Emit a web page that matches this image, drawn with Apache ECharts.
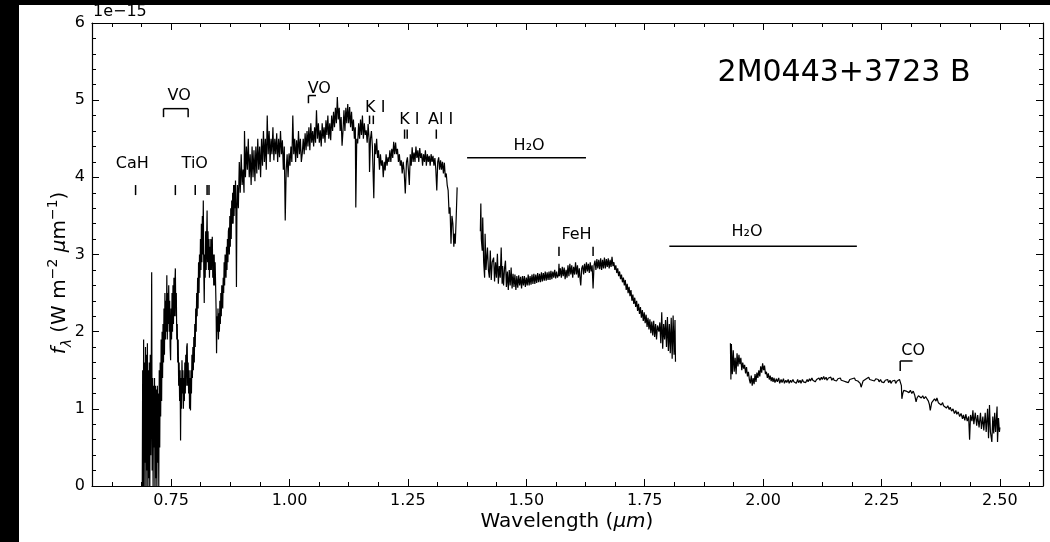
<!DOCTYPE html>
<html><head><meta charset="utf-8">
<script src="https://cdn.jsdelivr.net/npm/echarts@6/dist/echarts.min.js"></script>
<style>
html,body{margin:0;padding:0;background:#000;width:1050px;height:542px;overflow:hidden}
#chart{position:absolute;left:19px;top:5px;width:1031px;height:537px;background:#fff}
</style>
</head><body><div id="chart"></div>
<script>
// Flux values in units of 1e-15 W m^-2 um^-1, wavelength in um
const specSeg1 = [
[0.689,-0.3],[0.690,1.5],[0.691,-0.5],[0.692,1.9],[0.693,-0.4],[0.694,1.6],[0.695,0.3],[0.696,1.8],[0.697,-0.5],[0.698,1.7],
[0.699,0.2],[0.700,1.85],[0.701,-0.3],[0.702,1.5],[0.703,0.1],[0.704,1.6],[0.705,-0.2],[0.706,1.7],[0.707,0.4],[0.708,1.2],
[0.709,2.77],[0.710,0.2],[0.711,1.4],[0.712,0.0],[0.713,1.3],[0.714,0.5],[0.715,1.4],[0.716,-0.2],[0.717,1.3],[0.718,0.1],
[0.719,1.25],[0.720,-0.1],[0.721,1.3],[0.722,0.3],[0.723,1.2],[0.724,0.0],[0.725,1.5],[0.726,0.5],[0.727,1.6],[0.728,0.9],
[0.729,1.9],[0.730,1.1],[0.731,2.0],[0.732,1.4],[0.733,2.1],[0.734,1.6],[0.735,2.3],[0.736,1.7],[0.737,2.5],[0.738,1.9],
[0.739,2.4],[0.740,2.0],[0.741,2.73],[0.742,1.9],[0.743,2.5],[0.744,2.1],[0.745,2.6],[0.746,2.0],[0.747,2.4],[0.748,1.8],
[0.749,1.63],[0.750,2.3],[0.751,1.9],[0.752,2.5],[0.753,2.0],[0.754,2.6],[0.755,2.1],[0.756,2.7],[0.757,2.2],[0.758,2.6],
[0.759,2.82],[0.760,2.2],[0.761,2.5],[0.762,1.9],[0.763,2.1],[0.764,1.6],[0.765,1.9],[0.766,1.3],[0.767,1.6],[0.768,1.1],
[0.769,1.5],[0.770,0.59],[0.771,1.4],[0.772,1.0],[0.773,1.63],[0.774,1.2],[0.775,1.5],[0.776,1.0],[0.777,1.4],[0.778,1.1],
[0.779,1.6],[0.780,1.2],[0.781,1.7],[0.782,1.3],[0.783,1.8],[0.784,1.85],[0.785,1.3],[0.786,1.6],[0.787,1.2],[0.788,1.5],
[0.789,1.0],[0.790,1.4],[0.791,0.98],[0.792,1.5],[0.793,1.2],[0.794,1.7],[0.795,1.4],[0.796,1.8],[0.797,1.5],[0.798,1.93],
[0.799,1.6],[0.800,2.1],[0.801,1.8],[0.802,2.3],[0.803,2.0],[0.804,2.5],[0.805,2.2],[0.806,2.7],[0.807,2.3],[0.808,2.9],
[0.809,2.5],[0.810,3.0],[0.811,2.7],[0.812,3.2],[0.813,2.8],[0.814,3.4],[0.815,2.9],[0.816,3.5],[0.817,3.0],[0.818,3.7],
[0.819,2.8],[0.820,2.37],[0.821,3.0],[0.822,2.7],[0.823,3.3],[0.824,2.8],[0.825,3.2],[0.826,3.57],[0.827,2.9],[0.828,3.3],
[0.829,2.8],[0.830,3.2],[0.831,2.7],[0.832,3.1],[0.833,2.8],[0.834,3.2],[0.835,2.8],[0.836,3.1],[0.837,3.23],[0.838,2.7],
[0.839,3.0],[0.840,2.6],[0.841,3.0],[0.842,2.6],[0.843,2.9],[0.844,2.89],[0.845,2.3],[0.846,1.72],[0.847,2.2],[0.848,2.0],
[0.849,2.3],[0.850,1.9],[0.851,2.24],[0.852,2.0],[0.853,2.4],[0.854,2.1],[0.855,2.5],[0.856,2.2],[0.857,2.6],[0.858,2.54],
[0.859,2.3],[0.860,2.7],[0.861,2.5],[0.862,2.9],[0.863,2.6],[0.864,3.0],[0.865,2.96],[0.866,2.7],[0.867,3.1],[0.868,2.8],
[0.869,3.2],[0.870,2.9],[0.871,3.3],[0.872,3.35],[0.873,3.0],[0.874,3.5],[0.875,3.1],[0.876,3.6],[0.877,3.2],[0.878,3.7],
[0.879,3.4],[0.880,3.8],[0.881,3.4],[0.882,3.9],[0.883,3.5],[0.884,3.9],[0.885,3.6],[0.886,3.96],[0.887,3.5],[0.888,2.58],
[0.889,3.6],[0.890,3.9],[0.892,3.6],[0.894,4.2],[0.896,3.8],[0.898,4.3],[0.900,3.9],[0.902,4.1],[0.904,3.8],
[0.905,4.6],[0.907,4.0],[0.909,4.4],[0.911,4.1],[0.913,4.5],[0.915,4.0],[0.917,4.3],[0.919,3.9],[0.921,4.4],[0.923,4.0],
[0.925,4.35],[0.927,3.95],[0.929,4.4],[0.931,4.05],[0.933,4.5],[0.935,4.1],[0.937,4.4],[0.939,4.0],[0.941,4.5],[0.943,4.15],
[0.945,4.6],[0.947,4.2],[0.949,4.5],[0.951,4.1],[0.953,4.8],[0.955,4.3],[0.957,4.6],[0.959,4.2],[0.961,4.5],[0.963,4.3],
[0.965,4.65],[0.967,4.22],[0.969,4.5],[0.971,4.3],[0.973,4.57],[0.975,4.2],[0.977,4.5],[0.979,4.26],[0.981,4.6],[0.983,4.3],
[0.985,4.48],[0.987,4.1],[0.989,4.4],[0.991,3.44],[0.993,4.09],[0.995,4.3],[0.997,4.0],[0.999,4.31],[1.001,4.15],[1.003,4.4],
[1.005,4.2],[1.007,4.8],[1.009,4.3],[1.011,4.5],[1.013,4.2],[1.015,4.48],[1.017,4.25],[1.019,4.6],[1.021,4.3],[1.023,4.5],
[1.025,4.2],[1.027,4.31],[1.029,4.5],[1.031,4.3],[1.033,4.57],[1.035,4.35],[1.037,4.6],[1.039,4.4],[1.041,4.65],[1.043,4.35],
[1.045,4.7],[1.047,4.45],[1.049,4.6],[1.051,4.4],[1.053,4.65],[1.055,4.45],[1.057,4.87],[1.059,4.5],[1.061,4.7],[1.063,4.45],
[1.065,4.61],[1.067,4.4],[1.069,4.7],[1.071,4.5],[1.073,4.65],[1.075,4.45],[1.077,4.74],[1.079,4.55],[1.081,4.8],[1.083,4.5],
[1.085,4.7],[1.087,4.48],[1.089,4.8],[1.091,4.6],[1.093,4.85],[1.095,4.65],[1.097,4.9],[1.099,4.7],[1.101,5.04],[1.103,4.75],
[1.105,4.9],[1.107,4.6],[1.109,4.78],[1.111,4.41],[1.113,4.6],[1.115,4.87],[1.117,4.6],[1.119,4.9],[1.121,4.7],[1.123,4.95],
[1.125,4.7],[1.127,4.91],[1.129,4.65],[1.131,4.85],[1.133,4.6],[1.135,4.75],[1.137,4.5],[1.139,4.65],[1.140,3.61],[1.142,4.5],
[1.144,4.44],[1.146,4.7],[1.148,4.5],[1.150,4.75],[1.152,4.55],[1.154,4.8],[1.156,4.5],[1.158,4.7],[1.160,4.55],[1.162,4.61],
[1.164,4.45],[1.166,4.69],[1.168,4.5],[1.169,4.07],[1.171,4.5],[1.173,4.6],[1.175,4.4],[1.178,3.73],[1.180,4.44],[1.182,4.3],
[1.184,4.5],[1.186,4.25],[1.188,4.35],[1.190,4.1],[1.192,4.3],[1.194,4.15],[1.196,4.22],[1.198,4.0],[1.200,4.2],[1.202,4.09],
[1.204,4.3],[1.206,4.15],[1.208,4.26],[1.210,4.2],[1.212,4.35],[1.214,4.2],[1.216,4.37],[1.218,4.25],[1.220,4.46],[1.222,4.3],
[1.224,4.45],[1.226,4.3],[1.228,4.37],[1.230,4.2],[1.232,4.3],[1.234,4.15],[1.236,4.22],[1.238,4.05],[1.240,4.2],[1.242,4.09],
[1.2445,3.79],[1.247,4.2],[1.249,4.26],[1.251,4.1],[1.253,3.9],[1.255,4.3],[1.257,4.15],[1.259,4.39],[1.261,4.2],[1.263,4.32],
[1.265,4.2],[1.267,4.4],[1.269,4.25],[1.271,4.35],[1.273,4.2],[1.275,4.38],[1.277,4.25],[1.279,4.31],[1.281,4.15],[1.283,4.3],
[1.285,4.2],[1.287,4.35],[1.289,4.15],[1.291,4.3],[1.293,4.2],[1.295,4.28],[1.297,4.15],[1.299,4.3],[1.301,4.2],[1.303,4.28],
[1.305,4.15],[1.307,4.25],[1.309,4.1],[1.311,3.83],[1.313,4.2],[1.315,4.26],[1.317,4.1],[1.319,4.22],[1.321,4.1],[1.323,4.2],
[1.325,4.05],[1.327,4.19],[1.329,4.0],[1.331,4.05],[1.333,3.9],[1.335,3.83],[1.337,3.53],[1.339,3.61],[1.341,3.14],[1.343,3.5],
[1.345,3.4],[1.347,3.1],[1.348,3.27],[1.350,3.14],[1.352,3.48],[1.354,3.87]
];
const specSeg2 = [
[1.403,3.3],[1.404,3.66],[1.405,3.2],[1.407,3.05],[1.408,3.48],[1.410,2.9],[1.412,2.7],[1.413,3.27],[1.415,2.8],[1.416,2.92],
[1.418,3.09],[1.420,2.8],[1.422,2.7],[1.424,3.05],[1.426,2.67],[1.428,2.9],[1.431,2.96],[1.433,2.65],[1.435,2.9],[1.437,2.7],
[1.439,3.01],[1.441,2.62],[1.443,2.85],[1.445,2.7],[1.447,3.09],[1.449,2.62],[1.450,2.85],[1.452,2.6],[1.454,2.82],[1.456,2.92],
[1.458,2.58],[1.460,2.78],[1.462,2.54],[1.464,2.8],[1.466,2.6],[1.468,2.83],[1.470,2.56],[1.472,2.75],[1.474,2.58],[1.476,2.74],
[1.478,2.54],[1.480,2.72],[1.482,2.57],[1.484,2.73],[1.486,2.6],[1.488,2.71],[1.490,2.56],[1.492,2.72],[1.494,2.6],[1.496,2.72],
[1.498,2.58],[1.500,2.7],[1.502,2.6],[1.504,2.74],[1.506,2.6],[1.508,2.72],[1.510,2.61],[1.512,2.74],[1.514,2.62],[1.516,2.75],
[1.518,2.62],[1.520,2.74],[1.522,2.63],[1.524,2.76],[1.526,2.64],[1.528,2.75],[1.530,2.64],[1.532,2.77],[1.534,2.65],[1.536,2.76],
[1.538,2.66],[1.540,2.78],[1.542,2.66],[1.544,2.77],[1.546,2.67],[1.548,2.78],[1.550,2.67],[1.552,2.79],[1.554,2.68],[1.556,2.78],
[1.558,2.7],[1.560,2.8],[1.562,2.69],[1.564,2.78],[1.566,2.7],[1.568,2.74],[1.569,2.88],[1.570,2.72],[1.572,2.82],[1.574,2.7],
[1.576,2.84],[1.578,2.72],[1.580,2.83],[1.582,2.68],[1.584,2.8],[1.586,2.7],[1.588,2.86],[1.590,2.72],[1.592,2.88],[1.594,2.74],
[1.596,2.86],[1.598,2.7],[1.600,2.84],[1.602,2.74],[1.604,2.9],[1.606,2.74],[1.608,2.86],[1.610,2.7],[1.612,2.82],[1.614,2.65],
[1.615,2.6],[1.617,2.82],[1.619,2.86],[1.621,2.74],[1.623,2.88],[1.625,2.76],[1.627,2.9],[1.629,2.78],[1.631,2.88],[1.633,2.76],
[1.635,2.9],[1.637,2.78],[1.639,2.86],[1.641,2.56],[1.643,2.86],[1.645,2.92],[1.647,2.8],[1.649,2.94],[1.651,2.82],[1.653,2.93],
[1.655,2.81],[1.657,2.95],[1.659,2.8],[1.661,2.93],[1.663,2.82],[1.665,2.96],[1.667,2.82],[1.669,2.94],[1.671,2.84],[1.673,2.95],
[1.675,2.82],[1.677,2.93],[1.679,2.84],[1.681,2.97],[1.683,2.85],[1.685,2.9],[1.687,2.8],[1.689,2.86],[1.691,2.76],[1.693,2.82],
[1.695,2.72],[1.697,2.78],[1.699,2.68],[1.701,2.74],[1.703,2.64],[1.705,2.7],[1.707,2.6],[1.709,2.67],[1.711,2.54],[1.713,2.62],
[1.715,2.5],[1.717,2.58],[1.719,2.46],[1.721,2.54],[1.723,2.4],[1.725,2.48],[1.727,2.36],[1.729,2.44],[1.731,2.32],[1.733,2.4],
[1.735,2.27],[1.737,2.36],[1.739,2.23],[1.741,2.32],[1.743,2.18],[1.745,2.28],[1.747,2.14],[1.749,2.25],[1.751,2.11],[1.753,2.22],
[1.755,2.06],[1.757,2.18],[1.759,2.03],[1.761,2.16],[1.763,1.98],[1.765,2.13],[1.767,1.95],[1.769,2.14],[1.771,1.93],[1.773,2.1],
[1.775,1.9],[1.777,2.08],[1.780,2.0],[1.782,2.12],[1.784,1.85],[1.786,2.25],[1.788,1.78],[1.790,2.1],[1.792,1.9],[1.794,2.15],
[1.796,1.8],[1.798,2.19],[1.800,1.75],[1.802,2.1],[1.804,1.72],[1.806,2.18],[1.808,1.65],[1.810,2.21],[1.812,1.7],[1.814,2.15],
[1.815,1.61]
];
const specSeg3 = [
[1.931,1.85],[1.932,1.38],[1.933,1.84],[1.935,1.45],[1.937,1.76],[1.939,1.48],[1.941,1.66],[1.943,1.45],[1.945,1.72],[1.947,1.55],
[1.949,1.7],[1.951,1.58],[1.953,1.66],[1.955,1.5],[1.957,1.6],[1.959,1.52],[1.961,1.57],[1.963,1.46],[1.965,1.54],[1.967,1.42],
[1.969,1.48],[1.971,1.38],[1.973,1.33],[1.975,1.43],[1.977,1.3],[1.979,1.4],[1.981,1.32],[1.983,1.45],[1.985,1.35],[1.987,1.47],
[1.989,1.4],[1.991,1.5],[1.993,1.42],[1.995,1.55],[1.997,1.47],[1.999,1.59],[2.001,1.5],[2.003,1.56],[2.005,1.45],[2.007,1.48],
[2.009,1.4],[2.011,1.46],[2.013,1.38],[2.015,1.43],[2.017,1.36],[2.019,1.41],[2.021,1.35],[2.023,1.4],[2.025,1.34],[2.028,1.39],
[2.030,1.35],[2.033,1.4],[2.035,1.33],[2.038,1.38],[2.040,1.34],[2.043,1.39],[2.045,1.33],[2.048,1.37],[2.050,1.34],[2.053,1.38],
[2.055,1.33],[2.058,1.37],[2.060,1.34],[2.063,1.38],[2.065,1.35],[2.068,1.37],[2.070,1.33],[2.073,1.38],[2.075,1.34],[2.078,1.37],
[2.080,1.33],[2.083,1.38],[2.085,1.35],[2.088,1.37],[2.090,1.34],[2.093,1.38],[2.095,1.35],[2.098,1.39],[2.100,1.36],[2.103,1.4],
[2.105,1.37],[2.108,1.39],[2.110,1.35],[2.113,1.38],[2.115,1.36],[2.118,1.4],[2.120,1.37],[2.123,1.41],[2.125,1.38],[2.128,1.42],
[2.130,1.38],[2.133,1.41],[2.135,1.37],[2.138,1.4],[2.140,1.38],[2.143,1.41],[2.145,1.37],[2.148,1.4],[2.150,1.37],[2.153,1.39],
[2.155,1.36],[2.158,1.39],[2.160,1.37],[2.163,1.4],[2.165,1.37],[2.168,1.39],[2.170,1.36],[2.173,1.38],[2.175,1.35],[2.178,1.37],
[2.180,1.34],[2.183,1.38],[2.185,1.36],[2.188,1.39],[2.190,1.37],[2.193,1.4],[2.195,1.37],[2.198,1.39],[2.200,1.36],[2.203,1.38],
[2.205,1.33],[2.207,1.28],[2.209,1.3],[2.211,1.36],[2.213,1.38],[2.215,1.35],[2.218,1.39],[2.220,1.37],[2.223,1.41],[2.225,1.38],
[2.228,1.4],[2.230,1.37],[2.233,1.39],[2.235,1.36],[2.238,1.39],[2.240,1.37],[2.243,1.38],[2.245,1.35],[2.248,1.38],[2.250,1.35],
[2.253,1.37],[2.255,1.34],[2.258,1.37],[2.260,1.35],[2.263,1.38],[2.265,1.34],[2.268,1.37],[2.270,1.33],[2.273,1.36],[2.275,1.34],
[2.278,1.37],[2.280,1.33],[2.283,1.36],[2.285,1.34],[2.288,1.38],[2.290,1.36],[2.292,1.3],[2.293,1.13],[2.295,1.2],[2.297,1.24],
[2.300,1.26],[2.302,1.23],[2.305,1.25],[2.308,1.21],[2.311,1.24],[2.314,1.2],[2.317,1.23],[2.320,1.18],[2.323,1.09],[2.325,1.14],
[2.328,1.17],[2.331,1.18],[2.334,1.14],[2.337,1.17],[2.340,1.13],[2.343,1.16],[2.346,1.15],[2.349,1.1],[2.351,1.06],[2.353,0.98],
[2.356,1.08],[2.359,1.1],[2.362,1.13],[2.365,1.1],[2.367,1.14],[2.370,1.08],[2.373,1.1],[2.376,1.05],[2.379,1.08],[2.381,1.04],
[2.384,1.06],[2.387,1.01],[2.390,1.04],[2.393,0.99],[2.395,1.02],[2.398,0.97],[2.401,1.0],[2.404,0.94],[2.407,0.98],[2.409,0.93],
[2.412,0.96],[2.415,0.9],[2.418,0.94],[2.421,0.87],[2.423,0.92],[2.426,0.85],[2.428,0.93],[2.431,0.84],[2.434,0.9],[2.436,0.6],
[2.438,0.92],[2.441,0.84],[2.443,0.98],[2.445,0.8],[2.448,0.95],[2.451,0.78],[2.453,0.92],[2.456,0.76],[2.459,0.95],[2.461,0.74],
[2.464,0.9],[2.466,0.72],[2.469,0.95],[2.471,0.7],[2.474,1.0],[2.476,0.62],[2.478,1.05],[2.480,0.7],[2.483,0.57],[2.485,0.9],
[2.487,0.68],[2.489,0.95],[2.491,0.7],[2.494,1.03],[2.495,0.57],[2.497,0.88],[2.499,0.7],[2.500,0.76]
];

// Axis ticks
const xMajorTicks = [0.75, 1.00, 1.25, 1.50, 1.75, 2.00, 2.25, 2.50];
const xMinorTicks = [0.625,0.6875,0.8125,0.875,0.9375,1.0625,1.125,1.1875,1.3125,1.375,1.4375,1.5625,1.625,1.6875,1.8125,1.875,1.9375,2.0625,2.125,2.1875,2.3125,2.375,2.4375,2.5625];
const xRange = [0.583, 2.591];
const yRange = [0, 6];

// Feature annotations (data coordinates)
const featureTicks = [[0.675,3.77,3.90],[0.759,3.77,3.90],[0.801,3.77,3.90],[0.826,3.77,3.90],[0.830,3.77,3.90],
  [1.169,4.69,4.80],[1.177,4.69,4.80],[1.243,4.50,4.62],[1.2485,4.50,4.62],[1.310,4.50,4.62],[1.569,2.98,3.10],[1.641,2.98,3.10]];
const bandLines = [[1.375,1.626,4.255],[1.802,2.198,3.106]];
const brackets = [[0.734,0.786,4.89,4.78,true],[1.040,1.056,5.06,4.96,false],[2.2895,2.3156,1.62,1.49,false]];
const featureNames = ['CaH','TiO','VO','VO','K I','K I','Al I','H₂O','FeH','H₂O','CO'];
const featureNameX = [0.668,0.800,0.767,1.063,1.181,1.253,1.319,1.506,1.606,1.966,2.317];
const featureNameY = [4.18,4.18,5.06,5.15,4.90,4.75,4.75,4.41,3.25,3.29,1.75];

const FONT = '"DejaVu Sans", sans-serif';

const segs = [];
featureTicks.forEach(t => segs.push([t[0], t[1], t[0], t[2]]));
bandLines.forEach(b => segs.push([b[0], b[2], b[1], b[2]]));
brackets.forEach(b => {
  segs.push([b[0], b[2], b[1], b[2]]);
  segs.push([b[0], b[2], b[0], b[3]]);
  if (b[4]) segs.push([b[1], b[2], b[1], b[3]]);
});
const labelPts = featureNames.map((n, i) => [featureNameX[i], featureNameY[i]]);

const chart = echarts.init(document.getElementById('chart'), null, {renderer: 'canvas'});

function xAxisDef(pos, ticks, len, showLine, showLabel) {
  return {
    type: 'value', position: pos, min: xRange[0], max: xRange[1],
    axisLine: {show: showLine, onZero: false, lineStyle: {color: '#000', width: 1.2}},
    axisTick: {show: true, inside: true, length: len, customValues: ticks, lineStyle: {color: '#000', width: 1}},
    axisLabel: showLabel ? {show: true, customValues: ticks, formatter: v => v.toFixed(2), fontSize: 16, color: '#000', fontFamily: FONT, margin: 7} : {show: false},
    splitLine: {show: false}
  };
}
function yAxisDef(pos, showLabel) {
  return {
    type: 'value', position: pos, min: yRange[0], max: yRange[1], interval: 1,
    axisLine: {show: true, onZero: false, lineStyle: {color: '#000', width: 1.2}},
    axisTick: {show: true, inside: true, length: 7, lineStyle: {color: '#000', width: 1}},
    minorTick: {show: true, splitNumber: 5, length: 4, lineStyle: {color: '#000', width: 1}},
    axisLabel: showLabel ? {show: true, fontSize: 16, color: '#000', fontFamily: FONT, margin: 7} : {show: false},
    splitLine: {show: false}, minorSplitLine: {show: false}
  };
}

const lineSeries = [specSeg1, specSeg2, specSeg3].map(d => ({
  type: 'line', data: d, showSymbol: false, symbol: 'none', clip: true,
  lineStyle: {color: '#000', width: 1.2}, itemStyle: {color: '#000'}, silent: true, z: 3
}));

chart.setOption({
  backgroundColor: '#fff',
  animation: false,
  grid: {left: 73, top: 18, width: 951, height: 463, containLabel: false},
  xAxis: [
    xAxisDef('bottom', xMajorTicks, 7, true, true),
    xAxisDef('bottom', xMinorTicks, 4, false, false),
    xAxisDef('top', xMajorTicks, 7, true, false),
    xAxisDef('top', xMinorTicks, 4, false, false)
  ],
  yAxis: [yAxisDef('left', true), yAxisDef('right', false)],
  series: lineSeries.concat([
    {
      type: 'custom', data: segs, encode: {x: [0, 2], y: [1, 3]}, silent: true, z: 4,
      renderItem: (params, api) => {
        const p1 = api.coord([api.value(0), api.value(1)]);
        const p2 = api.coord([api.value(2), api.value(3)]);
        return {type: 'line', shape: {x1: p1[0], y1: p1[1], x2: p2[0], y2: p2[1]},
          style: {stroke: '#000', lineWidth: 1.5}};
      }
    },
    {
      type: 'custom', data: labelPts, encode: {x: 0, y: 1}, silent: true, z: 5,
      renderItem: (params, api) => {
        const p = api.coord([api.value(0), api.value(1)]);
        return {type: 'text', x: p[0], y: p[1],
          style: {text: featureNames[params.dataIndex], fill: '#000', fontSize: 16, fontFamily: FONT,
            align: 'center', verticalAlign: 'middle'}};
      }
    }
  ]),
  graphic: [
    {type: 'text', x: 825, y: 68, silent: true,
      style: {text: '2M0443+3723 B', fill: '#000', fontSize: 30, fontFamily: FONT, align: 'center', verticalAlign: 'middle'}},
    {type: 'text', x: 74, y: 7, silent: true,
      style: {text: '1e−15', fill: '#000', fontSize: 16, fontFamily: FONT, align: 'left', verticalAlign: 'middle'}},
    {type: 'text', x: 548, y: 517, silent: true,
      style: {text: '{n|Wavelength (}{i|μm}{n|)}', align: 'center', verticalAlign: 'middle',
        rich: {n: {fontSize: 20, fontFamily: FONT, fill: '#000'}, i: {fontSize: 20, fontFamily: FONT, fontStyle: 'italic', fill: '#000'}}}},
    {type: 'text', x: 41, y: 268, rotation: Math.PI / 2, silent: true,
      style: {text: '{f|f}{s|λ}{n| (W m}{p|−2}{n| }{i|μ}{n|m}{p|−1}{n|)}', align: 'center', verticalAlign: 'middle',
        rich: {
          f: {fontSize: 20, fontFamily: FONT, fontStyle: 'italic', fill: '#000', lineHeight: 28},
          s: {fontSize: 14, fontFamily: FONT, fontStyle: 'italic', fill: '#000', lineHeight: 18, verticalAlign: 'bottom'},
          p: {fontSize: 14, fontFamily: FONT, fill: '#000', lineHeight: 16, verticalAlign: 'top'},
          n: {fontSize: 20, fontFamily: FONT, fill: '#000', lineHeight: 28},
          i: {fontSize: 20, fontFamily: FONT, fontStyle: 'italic', fill: '#000', lineHeight: 28}
        }}}
  ]
});
</script></body></html>
